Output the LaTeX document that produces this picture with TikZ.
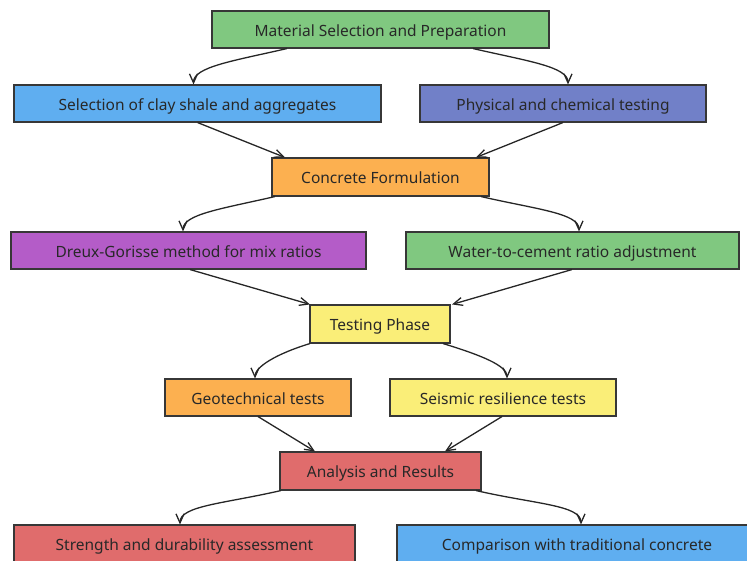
\documentclass[tikz,border=0pt]{standalone}
\usepackage{fontspec}
\setmainfont{Noto Sans}
\usetikzlibrary{arrows.meta,calc}
\definecolor{cgreen}{RGB}{128,200,128}
\definecolor{cblue}{RGB}{95,174,240}
\definecolor{cslate}{RGB}{113,128,200}
\definecolor{corange}{RGB}{252,176,80}
\definecolor{cpurple}{RGB}{180,92,200}
\definecolor{cyellow}{RGB}{250,238,120}
\definecolor{cred}{RGB}{224,108,108}
\definecolor{ctext}{RGB}{40,40,40}
\definecolor{cborder}{RGB}{55,55,55}
\tikzset{
  box/.style={draw=cborder, line width=1.1pt, inner sep=0pt, text=ctext,
    text height=16.5pt, text depth=3pt,
    font=\fontsize{15.5}{18}\selectfont},
  conn/.style={draw=black!85, line width=1.3pt, -{Straight Barb[length=9pt,width=8pt]}},
  split/.style={conn, out=#1, in=90, out looseness=1.4, in looseness=0.45},
}
\begin{document}
\begin{tikzpicture}[x=1pt,y=1pt]
\useasboundingbox (0,0) rectangle (747,561);
\clip (0,0) rectangle (747,561);
% y up: Y = 561 - y
\node[box, fill=cgreen, minimum width=337, minimum height=37] (mat) at (380.5,531.5) {Material Selection and Preparation};
\node[box, fill=cblue, minimum width=367, minimum height=37] (sel) at (197.5,457.5) {Selection of clay shale and aggregates};
\node[box, fill=cslate, minimum width=286, minimum height=37] (phy) at (563,457.5) {Physical and chemical testing};
\node[box, fill=corange, minimum width=217, minimum height=38] (con) at (380.5,384) {Concrete Formulation};
\node[box, fill=cpurple, minimum width=355, minimum height=37] (dre) at (188.5,310.5) {Dreux-Gorisse method for mix ratios};
\node[box, fill=cgreen, minimum width=333, minimum height=37] (wat) at (572.5,310.5) {Water-to-cement ratio adjustment};
\node[box, fill=cyellow, minimum width=140, minimum height=38] (tes) at (380,237) {Testing Phase};
\node[box, fill=corange, minimum width=186, minimum height=37] (geo) at (258,163.5) {Geotechnical tests};
\node[box, fill=cyellow, minimum width=226, minimum height=37] (sei) at (503,163.5) {Seismic resilience tests};
\node[box, fill=cred, minimum width=201, minimum height=38] (ana) at (380.5,90) {Analysis and Results};
\node[box, fill=cred, minimum width=341, minimum height=38] (str) at (184.5,17) {Strength and durability assessment};
\node[box, fill=cblue, minimum width=360, minimum height=38] (cmp) at (577,17) {Comparison with traditional concrete};
% splits
\draw[split=193] ($(mat.south)+(-93.5,0)$) to ($(sel.north)+(-4,0)$);
\draw[split=-13] ($(mat.south)+(92.5,0)$) to ($(phy.north)+(5,0)$);
\draw[split=193] ($(con.south)+(-105.5,0)$) to ($(dre.north)+(-5.5,0)$);
\draw[split=-13] ($(con.south)+(100.5,0)$) to ($(wat.north)+(6.5,0)$);
\draw[split=197] ($(tes.south)+(-70,0)$) to ($(geo.north)+(-3,0)$);
\draw[split=-17] ($(tes.south)+(63,0)$) to ($(sei.north)+(4,0)$);
\draw[split=193] ($(ana.south)+(-99.5,0)$) to ($(str.north)+(-4.5,0)$);
\draw[split=-13] ($(ana.south)+(95.5,0)$) to ($(cmp.north)+(4,0)$);
% merges
\draw[conn] (sel.south) -- ($(con.north)+(-95.5,0)$);
\draw[conn] (phy.south) -- ($(con.north)+(95.5,0)$);
\draw[conn] ($(dre.south)+(1.5,0)$) -- ($(tes.north)+(-70,0)$);
\draw[conn] ($(wat.south)+(-0.5,0)$) -- ($(tes.north)+(72,0)$);
\draw[conn] (geo.south) -- ($(ana.north)+(-65.5,0)$);
\draw[conn] ($(sei.south)+(-1,0)$) -- ($(ana.north)+(64.5,0)$);
\end{tikzpicture}
\end{document}
